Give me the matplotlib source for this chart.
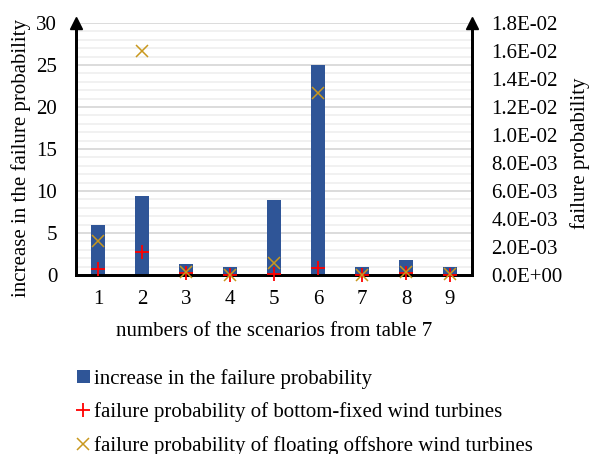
import matplotlib
matplotlib.use("Agg")
import matplotlib.pyplot as plt
from matplotlib.patches import Patch
from matplotlib.lines import Line2D
from matplotlib.ticker import MultipleLocator, FuncFormatter

plt.rcParams['font.family'] = ['Liberation Serif', 'DejaVu Serif']

scenarios = ['1', '2', '3', '4', '5', '6', '7', '8', '9']
increase = [5.9, 9.4, 1.3, 1.0, 8.9, 25.0, 1.0, 1.8, 1.0]
p_fixed = [0.40e-3, 1.66e-3, 0.15e-3, 0.02e-3, 0.09e-3, 0.52e-3, 0.02e-3, 0.12e-3, 0.03e-3]
p_floating = [2.45e-3, 16.0e-3, 0.18e-3, 0.02e-3, 0.83e-3, 13.0e-3, 0.02e-3, 0.24e-3, 0.04e-3]

bar_color = '#2F5597'
plus_color = '#FF0000'
cross_color = '#C9981E'
fs = 15
W, H = 590, 454

fig = plt.figure(figsize=(W / 100, H / 100), dpi=100)
ax = fig.add_axes([76 / W, 1 - 275 / H, 396 / W, 252 / H])
x = list(range(len(scenarios)))

ax.bar(x, increase, width=0.31, color=bar_color, zorder=2)
ax.set_xlim(-0.5, len(scenarios) - 0.5)
ax.set_ylim(0, 30)
ax.set_xticks(x)
ax.set_xticklabels(scenarios)
ax.yaxis.set_major_locator(MultipleLocator(5))
ax.yaxis.set_minor_locator(MultipleLocator(1))
ax.grid(which='major', axis='y', color='#D9D9D9', lw=1.3, zorder=0)
ax.grid(which='minor', axis='y', color='#F0F0F0', lw=1.3, zorder=0)
ax.set_axisbelow(True)
ax.tick_params(axis='both', which='both', length=0, labelsize=fs)
ax.tick_params(axis='y', pad=13.5)
ax.tick_params(axis='x', pad=11)
ax.set_xlabel('numbers of the scenarios from table 7', fontsize=fs, labelpad=9)

ax2 = ax.twinx()
ax2.plot(x, p_fixed, ls='none', marker='+', ms=10, mew=1.3, color=plus_color, zorder=3, clip_on=False)
ax2.plot(x, p_floating, ls='none', marker='x', ms=9, mew=1.1, color=cross_color, zorder=3, clip_on=False)
ax2.set_ylim(0, 0.018)
ax2.yaxis.set_major_locator(MultipleLocator(0.002))
ax2.yaxis.set_major_formatter(FuncFormatter(lambda v, p: f'{v:.1E}'))
ax2.tick_params(axis='y', length=0, labelsize=fs, pad=14)

for a in (ax, ax2):
    a.spines['top'].set_visible(False)
    for s in ('left', 'right', 'bottom'):
        a.spines[s].set_color('black')
        a.spines[s].set_linewidth(2)

# arrow heads on the two vertical axes
for xa in (0, 1):
    ax2.plot([xa], [1.0], marker='^', ms=8, color='black', transform=ax2.transAxes,
             clip_on=False, zorder=5)

# axis titles
fig.text(21 / W, 1 - 158 / H, 'increase in the failure probability', rotation=90,
         ha='center', va='center', fontsize=fs)
fig.text(580 / W, 1 - 153 / H, 'failure probability', rotation=90,
         ha='center', va='center', fontsize=fs)

handles = [
    Patch(facecolor=bar_color, edgecolor='none'),
    Line2D([], [], ls='none', marker='+', ms=10, mew=1.3, color=plus_color),
    Line2D([], [], ls='none', marker='x', ms=9, mew=1.1, color=cross_color),
]
labels = ['increase in the failure probability',
          'failure probability of bottom-fixed wind turbines',
          'failure probability of floating offshore wind turbines']
fig.legend(handles, labels, loc='upper left', bbox_to_anchor=(77 / W, 1 - 369 / H),
           frameon=False, fontsize=fs, handlelength=0.6, handleheight=0.6,
           handletextpad=0.2, labelspacing=0.65, borderpad=0, borderaxespad=0)

fig.savefig('out.png', dpi=100)
